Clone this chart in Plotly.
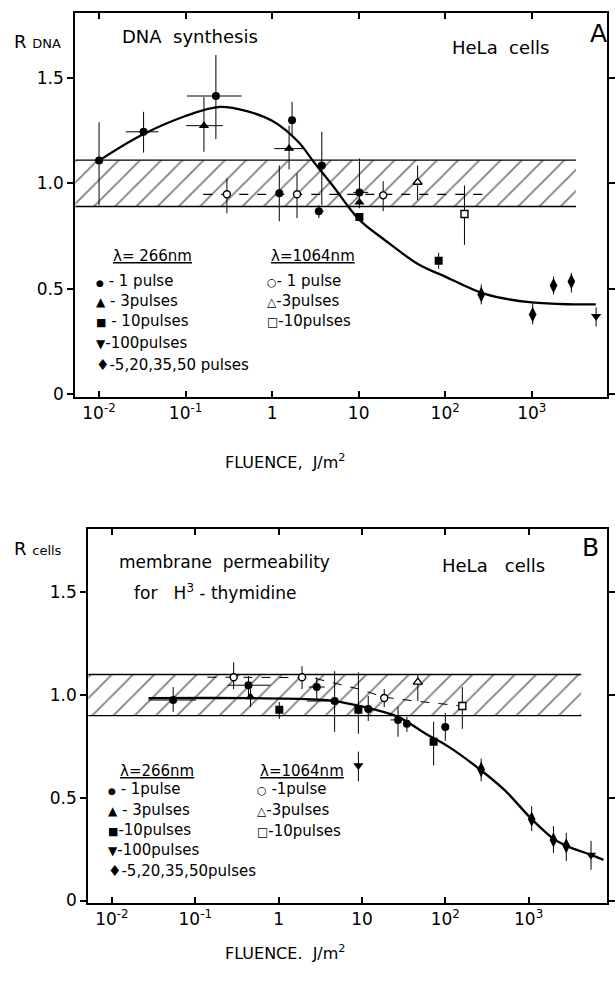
import plotly.graph_objects as go

W, H = 615, 981
FONT = "DejaVu Sans, Liberation Sans, Arial"

# ================= Panel A : DNA synthesis =================
A_curve_x = [0.01, 0.03, 0.1, 0.25, 0.5, 1, 2, 3, 5, 10, 20, 50, 100, 300, 1000, 3000, 5500]
A_curve_y = [1.108, 1.226, 1.32, 1.363, 1.344, 1.297, 1.198, 1.104, 0.99, 0.83, 0.731, 0.613, 0.557, 0.472, 0.434, 0.425, 0.425]

A_p1_x = [0.01, 0.0327, 0.224, 1.70, 3.75, 1.21, 3.47, 10.2]
A_p1_y = [1.108, 1.245, 1.415, 1.30, 1.085, 0.953, 0.868, 0.957]
A_p1_ylo = [0.896, 1.146, 1.21, 1.226, 0.896, 0.82, 0.835, 0.882]
A_p1_yhi = [1.29, 1.34, 1.61, 1.387, 1.245, 1.085, 0.896, 1.118]
A_p1_xlo = [0.01, 0.0204, 0.104, 1.62, 3.75, 1.21, 3.12, 8.7]
A_p1_xhi = [0.01, 0.0486, 0.445, 1.80, 3.75, 1.21, 3.95, 12.9]

A_p3_x = [0.163, 1.57, 10.2]
A_p3_y = [1.274, 1.165, 0.91]
A_p3_ylo = [1.15, 1.066, 0.91]
A_p3_yhi = [1.41, 1.274, 0.91]
A_p3_xlo = [0.1017, 1.06, 10.2]
A_p3_xhi = [0.269, 2.33, 10.2]

A_p10_x = [10.2, 84]
A_p10_y = [0.84, 0.632]
A_p10_ylo = [0.84, 0.594]
A_p10_yhi = [0.84, 0.67]

A_p100_x = [5550]
A_p100_y = [0.368]
A_p100_ylo = [0.32]
A_p100_yhi = [0.41]

A_multi_x = [261, 1025, 1786, 2870]
A_multi_y = [0.472, 0.377, 0.514, 0.533]
A_multi_ylo = [0.425, 0.33, 0.472, 0.481]
A_multi_yhi = [0.519, 0.43, 0.557, 0.575]
multi_labels = ["5", "20", "35", "50"]

A_ir1_x = [0.30, 1.94, 19.2]
A_ir1_y = [0.948, 0.948, 0.943]
A_ir1_ylo = [0.858, 0.835, 0.868]
A_ir1_yhi = [1.024, 1.047, 1.01]

A_ir3_x = [48]
A_ir3_y = [1.005]
A_ir3_ylo = [0.92]
A_ir3_yhi = [1.085]

A_ir10_x = [167]
A_ir10_y = [0.854]
A_ir10_ylo = [0.708]
A_ir10_yhi = [0.99]

A_dash_x = [0.16, 320]
A_dash_y = [0.948, 0.948]

A_band_x = [0.0053, 3240]
A_band_y = [0.89, 1.11]

# ================= Panel B : membrane permeability =================
B_curve_x = [0.0275, 0.46, 2.87, 4.7, 9.3, 27, 58, 109, 270, 519, 1087, 1990, 2830, 5600, 7900]
B_curve_y = [0.985, 0.985, 0.978, 0.971, 0.947, 0.894, 0.812, 0.749, 0.633, 0.536, 0.396, 0.300, 0.266, 0.222, 0.198]

B_p1_x = [0.0544, 0.435, 2.87, 4.70, 11.9, 27.1, 34.6, 100]
B_p1_y = [0.976, 1.048, 1.039, 0.971, 0.932, 0.879, 0.86, 0.845]
B_p1_ylo = [0.918, 0.995, 0.981, 0.821, 0.874, 0.797, 0.821, 0.778]
B_p1_yhi = [1.039, 1.092, 1.087, 1.116, 0.995, 0.942, 0.894, 0.913]
B_p1_xlo = [0.0275, 0.245, 2.31, 2.19, 11.9, 22, 31, 90]
B_p1_xhi = [0.102, 0.794, 3.57, 4.70, 11.9, 27.1, 38, 110]

B_p3_x = [0.46]
B_p3_y = [0.99]
B_p3_ylo = [0.942]
B_p3_yhi = [1.029]

B_p10_x = [1.02, 9.06, 72.4]
B_p10_y = [0.928, 0.928, 0.773]
B_p10_ylo = [0.884, 0.812, 0.657]
B_p10_yhi = [0.966, 1.111, 0.87]

B_p100_x = [9.06, 5598]
B_p100_y = [0.657, 0.222]
B_p100_ylo = [0.58, 0.15]
B_p100_yhi = [0.725, 0.29]

B_multi_x = [269, 1087, 1983, 2825]
B_multi_y = [0.638, 0.396, 0.295, 0.266]
B_multi_ylo = [0.58, 0.338, 0.232, 0.193]
B_multi_yhi = [0.691, 0.459, 0.362, 0.329]

B_ir1_x = [0.289, 1.91, 18.5]
B_ir1_y = [1.087, 1.087, 0.986]
B_ir1_ylo = [1.029, 1.029, 0.942]
B_ir1_yhi = [1.16, 1.14, 1.029]

B_ir3_x = [46.8]
B_ir3_y = [1.063]
B_ir3_ylo = [0.971]
B_ir3_yhi = [1.10]

B_ir10_x = [160]
B_ir10_y = [0.947]
B_ir10_ylo = [0.836]
B_ir10_yhi = [1.039]

B_dash_x = [0.14, 2.5, 9, 18.5, 45, 160]
B_dash_y = [1.087, 1.085, 1.03, 0.99, 0.97, 0.947]

B_band_x = [0.0052, 4270]
B_band_y = [0.90, 1.10]

tick_vals = [0.01, 0.1, 1, 10, 100, 1000]
tick_text = ["10<sup>-2</sup>", "10<sup>-1</sup>", "1", "10", "10<sup>2</sup>", "10<sup>3</sup>"]
ytick_vals = [0, 0.5, 1.0, 1.5]
ytick_text = ["0", "0.5", "1.0", "1.5"]

fig = go.Figure()


def band(bx, by, xa, ya):
    fig.add_trace(go.Scatter(
        x=[bx[0], bx[1], bx[1], bx[0], bx[0]],
        y=[by[0], by[0], by[1], by[1], by[0]],
        mode="none", fill="toself", fillcolor="rgba(0,0,0,0)",
        fillpattern=dict(shape="/", size=15, solidity=0.12, fgcolor="black", bgcolor="white"),
        xaxis=xa, yaxis=ya, showlegend=False, hoverinfo="skip"))
    for yy in by:
        fig.add_trace(go.Scatter(x=[bx[0], bx[1]], y=[yy, yy], mode="lines",
                                 line=dict(color="black", width=1.3),
                                 xaxis=xa, yaxis=ya, showlegend=False, hoverinfo="skip"))


def line(x, y, xa, ya, dash="solid", width=2.3, shape="spline"):
    fig.add_trace(go.Scatter(x=x, y=y, mode="lines",
                             line=dict(color="black", width=width, dash=dash, shape=shape, smoothing=1.0),
                             xaxis=xa, yaxis=ya, showlegend=False, hoverinfo="skip"))


def pts(x, y, ylo, yhi, symbol, size, xa, ya, xlo=None, xhi=None, open_=False):
    ey = dict(type="data", symmetric=False,
              array=[h - v for h, v in zip(yhi, y)],
              arrayminus=[v - l for v, l in zip(y, ylo)],
              color="black", thickness=1, width=0)
    ex = None
    if xlo is not None:
        ex = dict(type="data", symmetric=False,
                  array=[h - v for h, v in zip(xhi, x)],
                  arrayminus=[v - l for v, l in zip(x, xlo)],
                  color="black", thickness=1, width=0)
    marker = dict(symbol=symbol, size=size, color="white" if open_ else "black",
                  line=dict(color="black", width=1.4 if open_ else 0))
    fig.add_trace(go.Scatter(x=x, y=y, mode="markers", marker=marker,
                             error_y=ey, error_x=ex,
                             xaxis=xa, yaxis=ya, showlegend=False))


# ---- Panel A traces ----
band(A_band_x, A_band_y, "x", "y")
line(A_dash_x, A_dash_y, "x", "y", dash="dash", width=1.2, shape="linear")
line(A_curve_x, A_curve_y, "x", "y")
pts(A_p1_x, A_p1_y, A_p1_ylo, A_p1_yhi, "circle", 8, "x", "y", A_p1_xlo, A_p1_xhi)
pts(A_p3_x, A_p3_y, A_p3_ylo, A_p3_yhi, "triangle-up", 9, "x", "y", A_p3_xlo, A_p3_xhi)
pts(A_p10_x, A_p10_y, A_p10_ylo, A_p10_yhi, "square", 8, "x", "y")
pts(A_p100_x, A_p100_y, A_p100_ylo, A_p100_yhi, "triangle-down", 9, "x", "y")
pts(A_multi_x, A_multi_y, A_multi_ylo, A_multi_yhi, "diamond-tall", 11, "x", "y")
pts(A_ir1_x, A_ir1_y, A_ir1_ylo, A_ir1_yhi, "circle", 7, "x", "y", open_=True)
pts(A_ir3_x, A_ir3_y, A_ir3_ylo, A_ir3_yhi, "triangle-up", 8, "x", "y", open_=True)
pts(A_ir10_x, A_ir10_y, A_ir10_ylo, A_ir10_yhi, "square", 7, "x", "y", open_=True)

# ---- Panel B traces ----
band(B_band_x, B_band_y, "x2", "y2")
line(B_dash_x, B_dash_y, "x2", "y2", dash="dash", width=1.0, shape="linear")
line(B_curve_x, B_curve_y, "x2", "y2")
pts(B_p1_x, B_p1_y, B_p1_ylo, B_p1_yhi, "circle", 8, "x2", "y2", B_p1_xlo, B_p1_xhi)
pts(B_p3_x, B_p3_y, B_p3_ylo, B_p3_yhi, "triangle-up", 9, "x2", "y2")
pts(B_p10_x, B_p10_y, B_p10_ylo, B_p10_yhi, "square", 8, "x2", "y2")
pts(B_p100_x, B_p100_y, B_p100_ylo, B_p100_yhi, "triangle-down", 9, "x2", "y2")
pts(B_multi_x, B_multi_y, B_multi_ylo, B_multi_yhi, "diamond-tall", 11, "x2", "y2")
pts(B_ir1_x, B_ir1_y, B_ir1_ylo, B_ir1_yhi, "circle", 7, "x2", "y2", open_=True)
pts(B_ir3_x, B_ir3_y, B_ir3_ylo, B_ir3_yhi, "triangle-up", 8, "x2", "y2", open_=True)
pts(B_ir10_x, B_ir10_y, B_ir10_ylo, B_ir10_yhi, "square", 7, "x2", "y2", open_=True)

# ---- axes ----
def xaxis_def(dom, rng):
    return dict(type="log", domain=dom, range=rng, tickvals=tick_vals, ticktext=tick_text,
                ticks="inside", ticklen=6, tickwidth=1.5, tickcolor="black",
                showline=True, linecolor="black", linewidth=2, mirror="ticks",
                showgrid=False, zeroline=False,
                tickfont=dict(family=FONT, size=17, color="black"))


def yaxis_def(dom, rng, anchor):
    return dict(domain=dom, range=rng, tickvals=ytick_vals, ticktext=ytick_text, anchor=anchor,
                ticks="outside", ticklen=6, tickwidth=1.5, tickcolor="black",
                showline=True, linecolor="black", linewidth=2, mirror="ticks",
                showgrid=False, zeroline=False,
                tickfont=dict(family=FONT, size=17, color="black"))


fig.update_layout(
    width=W, height=H, margin=dict(l=0, r=0, t=0, b=0),
    paper_bgcolor="white", plot_bgcolor="white", showlegend=False,
    font=dict(family=FONT, size=16, color="black"),
    xaxis=xaxis_def([76 / W, 613 / W], [-2.275, 3.87]) | dict(anchor="y"),
    yaxis=yaxis_def([1 - 400 / H, 1 - 13 / H], [-0.014, 1.81], "x"),
    xaxis2=xaxis_def([89 / W, 613 / W], [-2.285, 3.94]) | dict(anchor="y2"),
    yaxis2=yaxis_def([1 - 910 / H, 1 - 533 / H], [-0.01, 1.81], "x2"),
)

anns = []


def txt(t, px, py, size=16, xanchor="left"):
    anns.append(dict(text=t, x=px / W, y=1 - py / H, xref="paper", yref="paper",
                     xanchor=xanchor, yanchor="middle", showarrow=False,
                     font=dict(family=FONT, size=size, color="black")))


def sym(ch, px=11):
    return f"<span style='font-size:{px}px'>{ch}</span>"


# Panel A texts
txt("R <span style='font-size:13px'>DNA</span>", 12, 42, 18)
txt("DNA  synthesis", 121, 37, 18)
txt("HeLa  cells", 454, 48, 18)
txt("A", 604, 34, 25, "center")
txt("FLUENCE,  J/m<sup>2</sup>", 288, 465, 16, "center")

legA_left = [("<u>λ= 266nm</u>", 258), (sym("●", 9) + " - 1 pulse", 283), (sym("▲", 12) + " - 3pulses", 303),
             (sym("■", 11) + " - 10pulses", 324), (sym("▼", 12) + "-100pulses", 346),
             (sym("♦", 15) + "-5,20,35,50 pulses", 368)]
for t, yy in legA_left:
    txt(t, 112 if t.startswith("<u>") else 95, yy, 15)
legA_right = [("<u>λ=1064nm</u>", 258), (sym("○", 11) + "- 1 pulse", 283),
              (sym("△", 12) + "-3pulses", 303), (sym("□", 12) + "-10pulses", 324)]
for t, yy in legA_right:
    txt(t, 272 if t.startswith("<u>") else 268, yy, 15)

# Panel B texts
txt("R <span style='font-size:13px'>cells</span>", 12, 553, 18)
txt("membrane  permeability", 118, 567, 17)
txt("for   H<sup>3</sup> - thymidine", 133, 597, 17)
txt("HeLa   cells", 444, 570, 18)
txt("B", 596, 552, 25, "center")
txt("FLUENCE.  J/m<sup>2</sup>", 288, 960, 16, "center")

legB_left = [("<u>λ=266nm</u>", 777), (sym("●", 9) + " - 1pulse", 795), (sym("▲", 12) + " - 3pulses", 817),
             (sym("■", 11) + "-10pulses", 837), (sym("▼", 12) + "-100pulses", 857),
             (sym("♦", 15) + "-5,20,35,50pulses", 878)]
for t, yy in legB_left:
    txt(t, 119 if t.startswith("<u>") else 107, yy, 15)
legB_right = [("<u>λ=1064nm</u>", 777), (sym("○", 11) + " -1pulse", 795),
              (sym("△", 12) + "-3pulses", 817), (sym("□", 12) + "-10pulses", 838)]
for t, yy in legB_right:
    txt(t, 261 if t.startswith("<u>") else 258, yy, 15)

# pulse-number labels next to diamonds
A_shift = [(-4, 28), (-6, 24), (0, 19), (8, 15)]
for (xv, yv, lab, (dx, dy)) in zip(A_multi_x, A_multi_y, multi_labels, A_shift):
    anns.append(dict(text=lab, x=xv, y=yv, xref="x", yref="y", showarrow=False,
                     xshift=dx, yshift=dy, yanchor="middle",
                     font=dict(family=FONT, size=16, color="black")))
B_shift = [(2, 26), (0, 21), (-2, 30), (3, 23)]
for (xv, yv, lab, (dx, dy)) in zip(B_multi_x, B_multi_y, multi_labels, B_shift):
    anns.append(dict(text=lab, x=xv, y=yv, xref="x2", yref="y2", showarrow=False,
                     xshift=dx, yshift=dy, yanchor="middle",
                     font=dict(family=FONT, size=16, color="black")))

fig.update_layout(annotations=anns)
fig.write_html("out.html")
